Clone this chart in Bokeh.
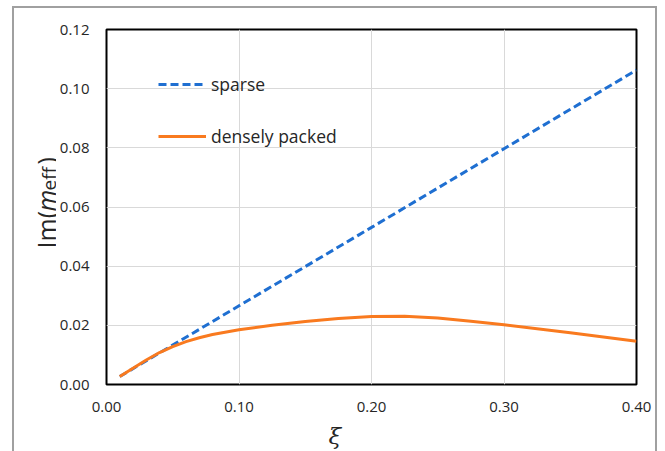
import math
from bokeh.plotting import figure
from bokeh.layouts import row
from bokeh.models import FixedTicker, Legend, LegendItem
from bokeh.core.properties import value
from bokeh.embed import file_html
from bokeh.resources import INLINE

# ---- data ----
xi_sparse = [0.01, 0.10, 0.20, 0.30, 0.40]
im_sparse = [0.0027, 0.0266, 0.0531, 0.0797, 0.1063]

xi_dense = [0.01, 0.02, 0.03, 0.04, 0.05, 0.06, 0.07, 0.08, 0.10, 0.125,
            0.15, 0.175, 0.20, 0.225, 0.25, 0.275, 0.30, 0.35, 0.40]
im_dense = [0.0027, 0.0055, 0.0083, 0.0108, 0.0128, 0.0145, 0.0158, 0.0169,
            0.0185, 0.0200, 0.0213, 0.0223, 0.0230, 0.0231, 0.0225, 0.0214,
            0.0202, 0.0175, 0.0146]

x_ticks = [0.0, 0.1, 0.2, 0.3, 0.4]
x_tick_labels = ["0.00", "0.10", "0.20", "0.30", "0.40"]
y_ticks = [0.0, 0.02, 0.04, 0.06, 0.08, 0.10, 0.12]
y_tick_labels = ["0.00", "0.02", "0.04", "0.06", "0.08", "0.10", "0.12"]

series_names = ["sparse", "densely packed"]
x_title = "ξ"
y_title_parts = ["Im(", "m", "eff", ")"]

FONT = "Open Sans"
TXT = "#262626"
H = 443
LAB_W = 56
Y_FIX = 28  # measured offset of rotated text in the strip

# ---------- left strip holding the y-axis title ----------
lab = figure(title=None, frame_width=LAB_W, frame_height=H,
             x_range=(0, LAB_W), y_range=(0, H),
             output_backend="svg", toolbar_location=None,
             x_axis_type=None, y_axis_type=None,
             min_border=0, min_border_left=0, min_border_right=0,
             min_border_top=0, min_border_bottom=0, align="start")
lab.outline_line_color = None
lab.background_fill_alpha = 0
lab.border_fill_alpha = 0

# (text, style, size, top-down pixel y of text start, baseline x)
title_layout = [(y_title_parts[0], "normal", "25px", 247, 45),
                (y_title_parts[1], "italic", "25px", 210, 45),
                (y_title_parts[2], "normal", "19px", 189, 48),
                (y_title_parts[3], "normal", "25px", 163, 45)]
for txt, style, size, py, px in title_layout:
    lab.text(x=[px], y=[H - py + Y_FIX], text=[txt], angle=math.pi / 2,
             text_align="left", text_baseline="alphabetic",
             text_font=value(FONT), text_font_style=style,
             text_font_size=size, text_color=TXT)

# ---------- main chart ----------
p = figure(frame_width=530, frame_height=355, x_range=(0, 0.40), y_range=(0, 0.12),
           output_backend="svg", toolbar_location=None,
           min_border_left=106 - LAB_W, min_border_right=21,
           min_border_top=29, min_border_bottom=59, align="start")
p.background_fill_color = "white"
p.border_fill_alpha = 0
p.outline_line_color = "black"
p.outline_line_width = 2

for ax, ticks, labels, standoff in ((p.xaxis[0], x_ticks, x_tick_labels, 17),
                                    (p.yaxis[0], y_ticks, y_tick_labels, 17)):
    ax.ticker = FixedTicker(ticks=ticks)
    ax.major_label_overrides = {t: l for t, l in zip(ticks, labels)}
    ax.major_tick_line_color = None
    ax.major_tick_out = 0
    ax.major_tick_in = 0
    ax.minor_tick_line_color = None
    ax.minor_tick_out = 0
    ax.axis_line_color = None
    ax.major_label_text_font = FONT
    ax.major_label_text_font_size = "15px"
    ax.major_label_text_color = TXT
    ax.major_label_standoff = standoff

p.xaxis.axis_label = x_title + "\u00a0" * 10
p.xaxis.axis_label_text_font = "DejaVu Serif"
p.xaxis.axis_label_text_font_style = "italic"
p.xaxis.axis_label_text_font_size = "23px"
p.xaxis.axis_label_text_color = TXT
p.xaxis.axis_label_standoff = 8

p.xgrid.ticker = FixedTicker(ticks=x_ticks)
p.ygrid.ticker = FixedTicker(ticks=y_ticks)
for g in (p.xgrid[0], p.ygrid[0]):
    g.grid_line_color = "#d9d9d9"
    g.grid_line_width = 1

r_sparse = p.line(xi_sparse, im_sparse, line_color="#1f6fd1", line_width=3,
                  line_dash="8 4")
r_dense = p.line(xi_dense, im_dense, line_color="#f97a1f", line_width=3)

legend = Legend(items=[LegendItem(label=series_names[0], renderers=[r_sparse]),
                       LegendItem(label=series_names[1], renderers=[r_dense])],
                location=(52, 236), orientation="vertical",
                border_line_color=None, background_fill_alpha=0,
                padding=0, margin=0, spacing=28,
                glyph_width=48, glyph_height=20, label_height=20,
                label_standoff=5,
                label_text_font=FONT, label_text_font_size="17.5px",
                label_text_color=TXT)
p.add_layout(legend, "center")

layout = row(lab, p, align="start")
# thin gray outer frame of the original figure (left, top, right edges)
layout.styles = {
    "background-color": "white",
    "background-image": ("linear-gradient(#a0a0a0,#a0a0a0),"
                         "linear-gradient(#a0a0a0,#a0a0a0),"
                         "linear-gradient(#a0a0a0,#a0a0a0)"),
    "background-repeat": "no-repeat",
    "background-size": "2px 100%, 100% 2px, 2px 100%",
    "background-position": "12px 6px, 12px 6px, 655px 6px",
}

open("out.html", "w").write(file_html(layout, INLINE))
